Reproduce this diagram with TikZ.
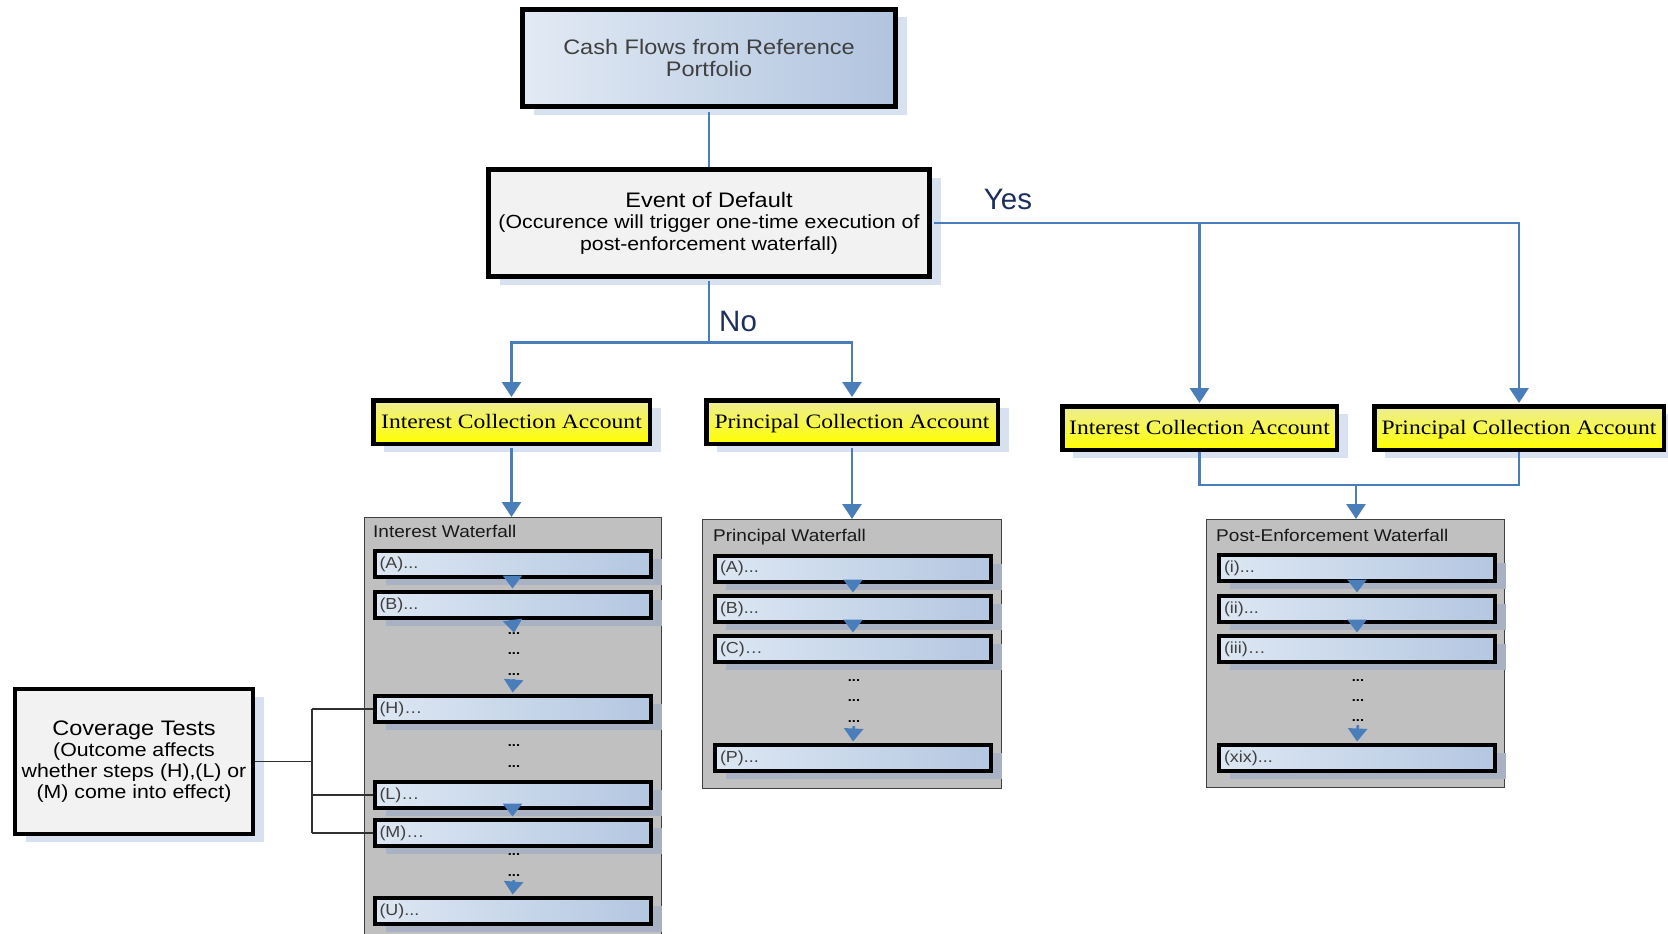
\documentclass[tikz,border=0pt]{standalone}
\usepackage{fontspec}
\setmainfont{Liberation Sans}[FakeStretch=1.12]
\newfontfamily\acctfont{Liberation Serif}[FakeStretch=1.15]
\newfontfamily\answerfont{Liberation Sans}
\usetikzlibrary{arrows.meta,shadows}

\definecolor{flowblue}{HTML}{4A7EBB}
\definecolor{shadowpale}{HTML}{D7E1EF}
\definecolor{shadowgrey}{HTML}{A8B2C3}
\definecolor{headL}{HTML}{E2EAF4}
\definecolor{headR}{HTML}{B1C4DF}
\definecolor{stepL}{HTML}{DDE7F3}
\definecolor{stepR}{HTML}{B4C7E1}
\definecolor{paneL}{HTML}{F2F2F2}
\definecolor{acctTop}{HTML}{EDED98}
\definecolor{acctBot}{HTML}{FFFF00}
\definecolor{poolgrey}{HTML}{C0C0C0}
\definecolor{pooledge}{HTML}{404040}
\definecolor{textgrey}{HTML}{404040}
\definecolor{navy}{HTML}{1C2F5E}
\definecolor{treeline}{HTML}{303030}

\tikzset{
  conn/.style={draw=flowblue, line width=2.6pt},
  arr/.style={-{Triangle[length=15pt,width=19pt]}},
  outershadow/.style={drop shadow={shadow xshift=11pt, shadow yshift=-8pt, fill=shadowpale, opacity=1}},
  innershadow/.style={drop shadow={shadow xshift=11pt, shadow yshift=-8pt, fill=shadowgrey, opacity=1}},
  headbox/.style={draw=black, line width=5pt, left color=headL, right color=headR,
    outershadow, align=center, text=textgrey, font=\fontsize{21}{22}\selectfont},
  panebox/.style={draw=black, line width=4.5pt, fill=paneL, outershadow, align=center,
    text=black, font=\fontsize{19}{21.5}\selectfont},
  acctbox/.style={draw=black, line width=4.5pt, top color=acctTop, bottom color=acctBot,
    outershadow, inner sep=0pt, minimum height=43.5pt, text height=15pt, text depth=3pt,
    text=black, font=\acctfont\fontsize{20.5}{22}\selectfont},
  pool/.style={draw=pooledge, line width=1pt, fill=poolgrey, anchor=north west, inner sep=0pt},
  pooltitle/.style={anchor=base west, inner sep=0pt, text=black!90, font=\fontsize{17}{18}\selectfont},
  stepbox/.style={draw=black, line width=4pt, left color=stepL, right color=stepR, innershadow,
    minimum height=26pt, text width=266pt, inner xsep=5pt, inner ysep=0pt, align=left,
    text=textgrey, font=\fontsize{16}{18}\selectfont},
  dotrow/.style={anchor=base, inner sep=0pt, text=black, font=\bfseries\fontsize{13}{13}\selectfont},
  covline/.style={draw=treeline, line width=1.3pt},
  answer/.style={inner sep=0pt, text=navy, font=\answerfont\fontsize{29.5}{30}\selectfont},
  steparr/.style={conn, -{Triangle[length=13pt,width=19pt]}, shorten >=1.5pt}
}

\begin{document}
\begin{tikzpicture}[x=1pt, y=-1pt]
\useasboundingbox (0,0) rectangle (1668,934);
\clip (0,0) rectangle (1668,934);

% --- top of the flow ---
\node[headbox, minimum width=373pt, minimum height=97pt] (cash) at (709,58)
  {Cash Flows from Reference\\Portfolio};
\node[panebox, minimum width=441pt, minimum height=107pt] (eod) at (709,223)
  {{\fontsize{21}{21.5}\selectfont Event of Default}\\(Occurence will trigger one-time execution of\\post-enforcement waterfall)};

% --- collection accounts ---
\node[acctbox, minimum width=276.5pt] (ica1) at (511.5,422) {Interest Collection Account};
\node[acctbox, minimum width=291.5pt] (pca1) at (852,422) {Principal Collection Account};
\node[acctbox, minimum width=274.5pt] (ica2) at (1199.5,428) {Interest Collection Account};
\node[acctbox, minimum width=289.5pt] (pca2) at (1519,428) {Principal Collection Account};

% --- waterfall containers ---
\node[pool, minimum width=297pt, minimum height=430pt] (iwf) at (364,517) {};
\node[pool, minimum width=299pt, minimum height=269pt] (pwf) at (702,519) {};
\node[pool, minimum width=298pt, minimum height=268pt] (pewf) at (1206,519) {};
\node[pooltitle] (iwt) at ([shift={(9,20)}]iwf.north west) {Interest Waterfall};
\node[pooltitle] (pwt) at ([shift={(11,22)}]pwf.north west) {Principal Waterfall};
\node[pooltitle] (pewt) at ([shift={(10,22)}]pewf.north west) {Post-Enforcement Waterfall};

% --- interest waterfall steps ---
\node[stepbox] (ia) at (512.5,564) {(A)...};
\node[stepbox] (ib) at (512.5,605) {(B)...};
\node[stepbox] (ih) at (512.5,709) {(H)…};
\node[stepbox] (il) at (512.5,795) {(L)…};
\node[stepbox] (im) at (512.5,833) {(M)…};
\node[stepbox] (iu) at (512.5,911) {(U)...};
\node[dotrow] (id1) at (514,634) {...};
\node[dotrow] (id2) at (514,654) {...};
\node[dotrow] (id3) at (514,675) {...};
\node[dotrow] (id4) at (514,746) {...};
\node[dotrow] (id5) at (514,767) {...};
\node[dotrow] (id6) at (514,855) {...};
\node[dotrow] (id7) at (514,876) {...};

% --- principal waterfall steps ---
\node[stepbox] (pa) at (853,568.5) {(A)...};
\node[stepbox] (pb) at (853,609) {(B)...};
\node[stepbox] (pc) at (853,649) {(C)…};
\node[stepbox] (pp) at (853,758) {(P)...};
\node[dotrow] (pd1) at (854,681) {...};
\node[dotrow] (pd2) at (854,701) {...};
\node[dotrow] (pd3) at (854,722) {...};

% --- post-enforcement waterfall steps ---
\node[stepbox] (ei) at (1357,568) {(i)...};
\node[stepbox] (eii) at (1357,609) {(ii)...};
\node[stepbox] (eiii) at (1357,649) {(iii)…};
\node[stepbox] (exix) at (1357,758) {(xix)...};
\node[dotrow] (ed1) at (1358,681) {...};
\node[dotrow] (ed2) at (1358,701) {...};
\node[dotrow] (ed3) at (1358,721) {...};

% --- coverage tests ---
\node[panebox, line width=4pt, minimum width=238pt, minimum height=145pt,
  font=\fontsize{19}{21}\selectfont] (cov) at (134,761.5)
  {{\fontsize{21}{21}\selectfont Coverage Tests}\\(Outcome affects\\whether steps (H),(L) or\\(M) come into effect)};

% --- branch labels ---
\node[answer, anchor=base] (yes) at (1008,209) {Yes};
\node[answer, anchor=base west] (no) at (719,331) {No};

% --- main connectors ---
\coordinate (nojoin) at (709,342.5);
\coordinate (merge) at (1356,485);
\draw[conn, shorten <=2.5pt] (cash.south) -- (eod.north);
\draw[conn, shorten <=2pt] (eod.south) -- (nojoin);
\draw[conn, arr, shorten >=1pt] (nojoin) -| (ica1.north);
\draw[conn, arr, shorten >=1pt] (nojoin) -| (pca1.north);
\draw[conn, arr, shorten <=2pt, shorten >=1pt] (eod.east) -| (ica2.north);
\draw[conn, arr, shorten <=2pt, shorten >=1pt] (eod.east) -| (pca2.north);
\draw[conn, arr, shorten <=2pt] (ica1.south) -- (ica1.south |- iwf.north);
\draw[conn, arr, shorten <=2pt] (pca1.south) -- (pca1.south |- pwf.north);
\draw[conn] (ica2.south) -- (ica2.south |- merge) -- (pca2.south |- merge) -- (pca2.south);
\draw[conn, arr] (merge) -- (merge |- pewf.north);

% --- step arrows ---
\draw[steparr] (ia.south) -- (ib.north);
\draw[steparr, shorten >=-1pt] (ib.south) -- (id1.north);
\draw[steparr, shorten <=4pt] (id3.south) -- (ih.north);
\draw[steparr] (il.south) -- (im.north);
\draw[steparr, shorten <=4pt] (id7.south) -- (iu.north);
\draw[steparr] (pa.south) -- (pb.north);
\draw[steparr] (pb.south) -- (pc.north);
\draw[steparr, shorten <=4pt] (pd3.south) -- (pp.north);
\draw[steparr] (ei.south) -- (eii.north);
\draw[steparr] (eii.south) -- (eiii.north);
\draw[steparr, shorten <=4pt] (ed3.south) -- (exix.north);

% --- coverage test links ---
\coordinate (cj) at (312,761.5);
\draw[covline] (cov.east) -- (cj);
\draw[covline] (cj |- ih.west) -- (cj |- im.west);
\draw[covline] (cj |- ih.west) -- (ih.west);
\draw[covline] (cj |- il.west) -- (il.west);
\draw[covline] (cj |- im.west) -- (im.west);
\end{tikzpicture}
\end{document}
